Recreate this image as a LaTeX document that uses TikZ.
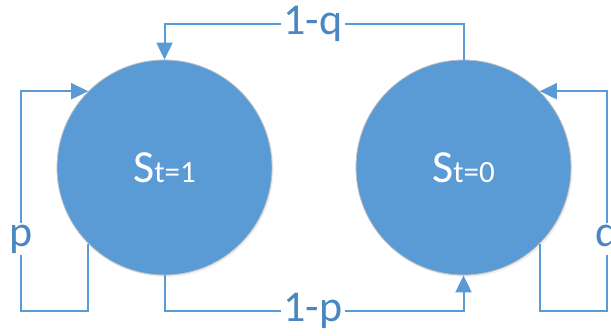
\documentclass[tikz,border=0pt]{standalone}
\usepackage{fontspec}
\setmainfont{Carlito}
\usepackage{xcolor}
\usetikzlibrary{arrows.meta,positioning,shadows}

\definecolor{stateblue}{HTML}{5B9BD5}
\definecolor{labelblue}{HTML}{4A86C2}

\tikzset{
  state/.style={circle, fill=stateblue, draw=black!25, line width=0.8pt,
    minimum size=215pt, inner sep=0pt, text=white,
    drop shadow={opacity=0.12, shadow xshift=1.5pt, shadow yshift=-2pt}},
  link/.style={draw=stateblue, line width=2pt},
  tip/.style={-{Triangle[length=17pt,width=16pt]}},
  prob/.style={fill=white, text=labelblue, inner sep=2pt,
    font=\fontsize{44}{44}\selectfont},
}

\newcommand{\statetext}[1]{{\fontsize{46}{46}\selectfont S}{\fontsize{31}{31}\selectfont t=#1}}

\begin{document}
\begin{tikzpicture}[x=1pt,y=-1pt]
    \useasboundingbox (0,0) rectangle (611,335);

    % the two states
    \node[state] (s1) at (164.5,167.5) {\statetext{1}};
    \node[state] (s0) at (463.5,167.5) {\statetext{0}};

    % transition labels
    \node[prob] (q1) at (313,24) {1-q};
    \node[prob] (p1) at (313,311) {1-p};
    \node[prob] (pl) at (21,239) {p};
    \node[prob] (ql) at (607,239) {q};
    \coordinate (lb) at (21,311);
    \coordinate (rb) at (607,311);

    % between the states
    \draw[link] (s0.north) |- (q1.east);
    \draw[link,tip] (q1.west) -| (s1.north);
    \draw[link] (s1.south) |- (p1.west);
    \draw[link,tip] (p1.east) -| (s0.south);

    % self loops
    \draw[link] (s1.225) |- (lb) -- (pl.south);
    \draw[link,tip] (pl.north) |- (s1.135);
    \draw[link] (s0.-45) |- (rb) -- (ql.south);
    \draw[link,tip] (ql.north) |- (s0.45);
\end{tikzpicture}
\end{document}
